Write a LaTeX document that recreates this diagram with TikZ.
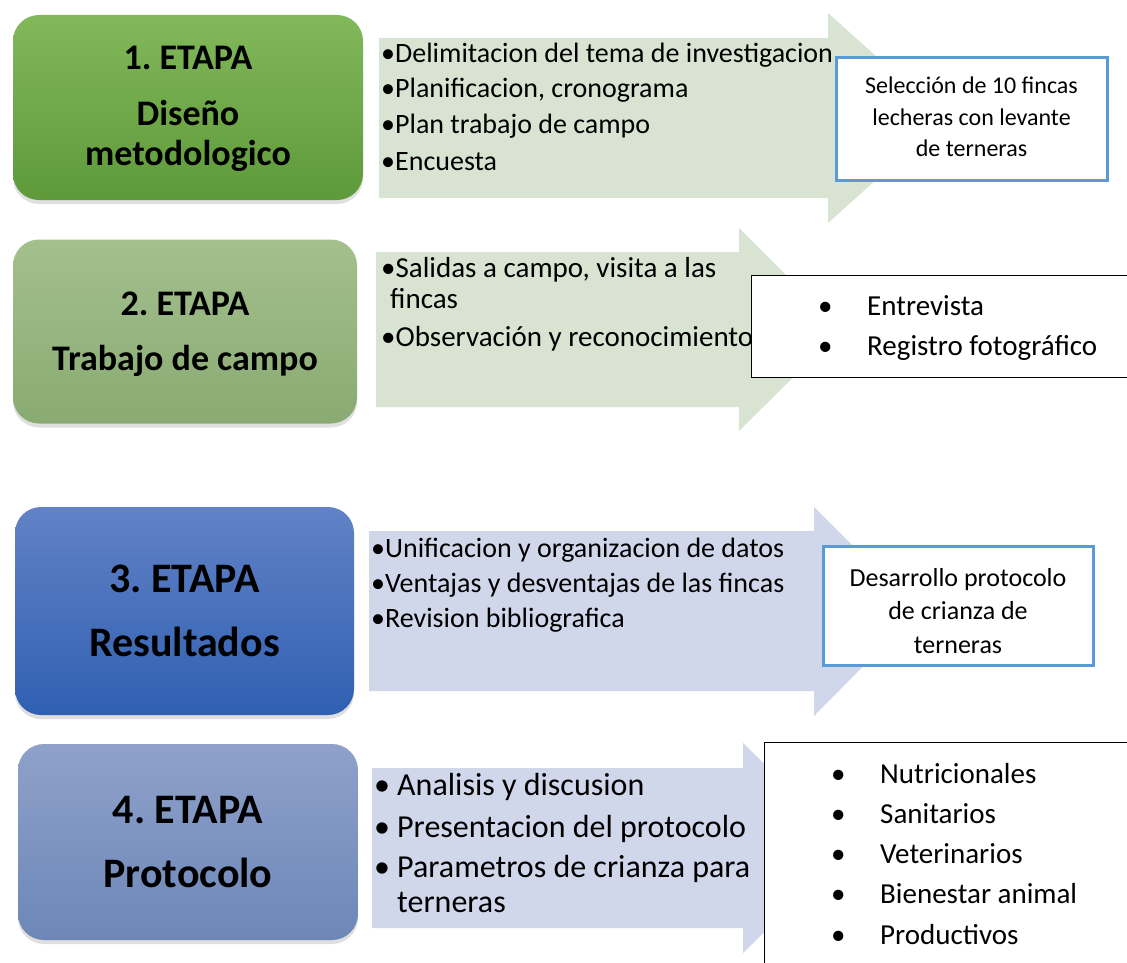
\documentclass[tikz,border=0pt]{standalone}
\usepackage{fontspec}
\setmainfont{Carlito}
\usetikzlibrary{shadows}
\frenchspacing
\definecolor{gA}{RGB}{130,184,90}
\definecolor{gB}{RGB}{94,154,58}
\definecolor{gC}{RGB}{164,192,141}
\definecolor{gD}{RGB}{137,170,114}
\definecolor{bA}{RGB}{98,130,198}
\definecolor{bB}{RGB}{48,96,178}
\definecolor{bC}{RGB}{143,161,202}
\definecolor{bD}{RGB}{108,135,183}
\definecolor{arrG}{RGB}{216,228,209}
\definecolor{arrB}{RGB}{208,215,234}
\definecolor{frameB}{RGB}{91,155,213}
\begin{document}
\begin{tikzpicture}[x=1pt,y=-1pt,
  stage/.style={rounded corners=26pt, shading=axis, draw=none, inner sep=0pt,
    drop shadow={opacity=0.25, shadow xshift=0pt, shadow yshift=-4pt}},
  ttl/.style={anchor=base, font=\fontsize{36}{43}\selectfont\bfseries},
  ttlb/.style={anchor=base, font=\fontsize{42}{50}\selectfont\bfseries},
  atxt/.style={anchor=base west, inner sep=0pt, font=\fontsize{28}{34}\selectfont},
  ltxt/.style={anchor=base west, inner sep=0pt, font=\fontsize{29}{35}\selectfont},
  ptxt/.style={anchor=base west, inner sep=0pt, font=\fontsize{32}{38}\selectfont},
  btxt/.style={anchor=base, inner sep=0pt},
  bluebox/.style={draw=frameB, line width=3pt, fill=white},
  blackbox/.style={draw=black, line width=1pt, fill=white}
]
\useasboundingbox (0,0) rectangle (1127,963);
\clip (0,0) rectangle (1127,963);

% ---------- stage boxes ----------
\node[stage, top color=gA, bottom color=gB, minimum width=350pt, minimum height=185pt] (s1) at (188,107.5) {};
\node[stage, top color=gC, bottom color=gD, minimum width=344pt, minimum height=184pt] (s2) at (185,331.5) {};
\node[stage, top color=bA, bottom color=bB, minimum width=339pt, minimum height=208pt] (s3) at (184.5,611) {};
\node[stage, top color=bC, bottom color=bD, minimum width=340pt, minimum height=196pt] (s4) at (188,842) {};

\node[ttl] (s1a) at (188,70) {1. ETAPA};
\node[ttl] (s1b) at (188,126) {Diseño};
\node[ttl] (s1c) at (188,165) {metodologico};
\node[ttl] (s2a) at (185,315) {2. ETAPA};
\node[ttl] (s2b) at (185,370) {Trabajo de campo};
\node[ttlb] (s3a) at (184.5,592) {3. ETAPA};
\node[ttlb] (s3b) at (184.5,656) {Resultados};
\node[ttlb] (s4a) at (188,823) {4. ETAPA};
\node[ttlb] (s4b) at (188,887) {Protocolo};

% ---------- block arrows ----------
\fill[arrG] (379,38) -- (828,38) -- (828,13) -- (945,118) -- (828,223) -- (828,198) -- (379,198) -- cycle;
\fill[arrG] (376,252) -- (739,252) -- (739,228) -- (841,330) -- (739,431) -- (739,407) -- (376,407) -- cycle;
\fill[arrB] (369,531) -- (814,531) -- (814,507) -- (918,611) -- (814,716) -- (814,691) -- (369,691) -- cycle;
\fill[arrB] (372,768) -- (743,768) -- (743,743) -- (850,848) -- (743,953) -- (743,928) -- (372,928) -- cycle;

% arrow texts
\node[atxt] (a1l1) at (381,63) {•Delimitacion del tema de investigacion};
\node[atxt] (a1l2) at (381,98) {•Planificacion, cronograma};
\node[atxt] (a1l3) at (381,134) {•Plan trabajo de campo};
\node[atxt] (a1l4) at (381,170) {•Encuesta};

\node[atxt, font=\fontsize{29}{35}\selectfont] (a2l1) at (381,277) {•Salidas a campo, visita a las};
\node[atxt, font=\fontsize{29}{35}\selectfont] (a2l2) at (390,308) {fincas};
\node[atxt, font=\fontsize{29}{35}\selectfont] (a2l3) at (381,346) {•Observación y reconocimiento};

\node[atxt] (a3l1) at (371,557) {•Unificacion y organizacion de datos};
\node[atxt] (a3l2) at (371,592) {•Ventajas y desventajas de las fincas};
\node[atxt] (a3l3) at (371,627) {•Revision bibliografica};

\node[ptxt] (a4b1) at (374,795) {•};
\node[ptxt] (a4l1) at (397,795) {Analisis y discusion};
\node[ptxt] (a4b2) at (374,837) {•};
\node[ptxt] (a4l2) at (397,837) {Presentacion del protocolo};
\node[ptxt] (a4b3) at (374,877) {•};
\node[ptxt] (a4l3) at (397,877) {Parametros de crianza para};
\node[ptxt] (a4l4) at (397,912) {terneras};

% ---------- result boxes ----------
\node[bluebox, minimum width=271pt, minimum height=122pt] (r1) at (971.5,119) {};
\node[btxt, font=\fontsize{24}{29}\selectfont] (r1a) at (971.5,94) {Selección de 10 fincas};
\node[btxt, font=\fontsize{24}{29}\selectfont] (r1b) at (971.5,126) {lecheras con levante};
\node[btxt, font=\fontsize{24}{29}\selectfont] (r1c) at (971.5,157) {de terneras};

\node[blackbox, minimum width=390pt, minimum height=102pt] (r2) at (946,326) {};
\node[ltxt] (r2b1) at (818,315) {•};
\node[ltxt] (r2a) at (867,315) {Entrevista};
\node[ltxt] (r2b2) at (818,355) {•};
\node[ltxt] (r2b) at (867,355) {Registro fotográfico};

\node[bluebox, minimum width=270pt, minimum height=119pt] (r3) at (958,605.5) {};
\node[btxt, font=\fontsize{26}{31}\selectfont] (r3a) at (958,586) {Desarrollo protocolo};
\node[btxt, font=\fontsize{26}{31}\selectfont] (r3b) at (958,619) {de crianza de};
\node[btxt, font=\fontsize{26}{31}\selectfont] (r3c) at (958,653) {terneras};

\node[blackbox, minimum width=380pt, minimum height=240pt] (r4) at (954,862) {};
\node[ltxt] (r4b1) at (831,783) {•};
\node[ltxt] (r4a) at (880,783) {Nutricionales};
\node[ltxt] (r4b2) at (831,823) {•};
\node[ltxt] (r4b) at (880,823) {Sanitarios};
\node[ltxt] (r4b3) at (831,863) {•};
\node[ltxt] (r4c) at (880,863) {Veterinarios};
\node[ltxt] (r4b4) at (831,903) {•};
\node[ltxt] (r4d) at (880,903) {Bienestar animal};
\node[ltxt] (r4b5) at (831,944) {•};
\node[ltxt] (r4e) at (880,944) {Productivos};
\end{tikzpicture}
\end{document}
